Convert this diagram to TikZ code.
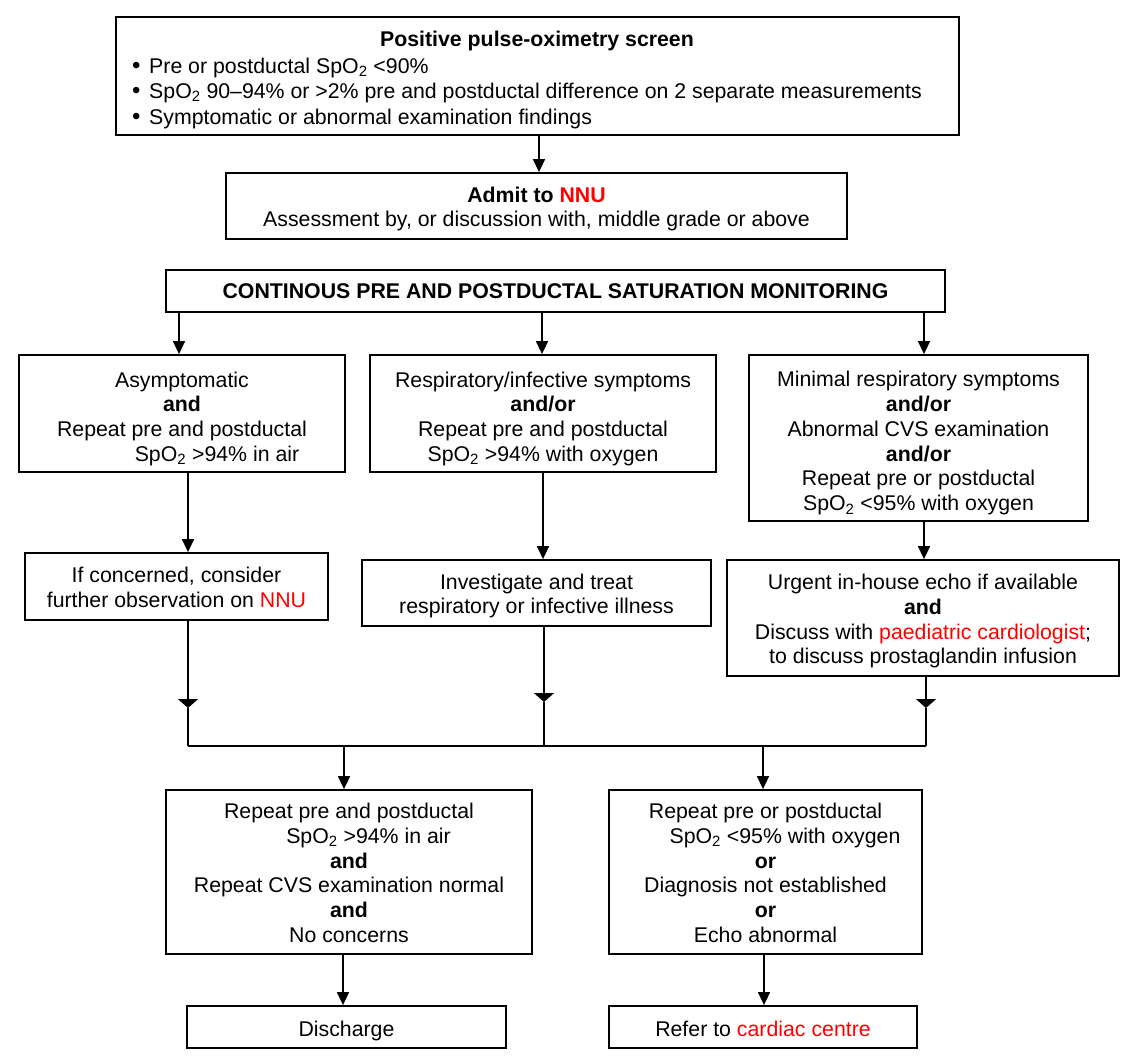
\documentclass[tikz,border=0pt]{standalone}
\usepackage{fontspec}
\setmainfont{Liberation Sans}
\usetikzlibrary{arrows.meta}
\definecolor{hl}{RGB}{255,0,0}
\newcommand{\spo}{SpO\textsubscript{2}}
\newcommand{\dn}[1]{\rule{0pt}{#1}}
\newcommand{\bul}{\makebox[17pt][l]{\fontsize{24}{24}\selectfont\textbullet}}
\tikzset{
  box/.style={draw, line width=1.8pt, inner sep=0pt, align=center, font=\fontsize{21.3}{24.8}\selectfont},
  txt/.style={inner sep=0pt, font=\fontsize{21.3}{25.5}\selectfont},
  conn/.style={line width=1.6pt},
  arr/.style={conn, -{Triangle[width=12pt,length=13pt]}},
  marr/.style={conn, -{Triangle[width=20pt,length=9pt]}}
}
\begin{document}
\begin{tikzpicture}[x=1pt,y=-1pt]
\useasboundingbox (0,0) rectangle (1145,1064);
% boxes
\node[box, minimum width=843pt, minimum height=118pt] (top) at (537.5,76) {};
\node[txt] (toph) at (537,41) {\bfseries Positive pulse-oximetry screen};
\node[txt, align=left, anchor=west] (topl) at (132,93) {\bul Pre or postductal \spo{} <90\%\\
\bul\spo{} 90--94\% or >2\% pre and postductal difference on 2 separate measurements\\
\bul Symptomatic or abnormal examination findings};
\node[box, minimum width=621pt, minimum height=66pt] (admit) at (536.5,206) {\dn{21.5pt}\bfseries Admit to \textcolor{hl}{NNU}\\Assessment by, or discussion with, middle grade or above};
\node[box, minimum width=779pt, minimum height=42pt] (mon) at (555.5,291) {\bfseries CONTINOUS PRE AND POSTDUCTAL SATURATION MONITORING};
\node[box, minimum width=326pt, minimum height=117pt] (asym) at (182,413.5) {\dn{26pt}Asymptomatic\\\textbf{and}\\Repeat pre and postductal\\\hspace*{70pt}\spo{} >94\% in air};
\node[box, minimum width=346pt, minimum height=117pt] (resp) at (543,413.5) {\dn{26pt}Respiratory/infective symptoms\\\textbf{and/or}\\Repeat pre and postductal\\\spo{} >94\% with oxygen};
\node[box, minimum width=339pt, minimum height=166pt] (minim) at (918.5,438) {\dn{26pt}Minimal respiratory symptoms\\\textbf{and/or}\\Abnormal CVS examination\\\textbf{and/or}\\Repeat pre or postductal\\\spo{} <95\% with oxygen};
\node[box, minimum width=303pt, minimum height=67pt] (conc) at (176.5,586.5) {\dn{17.5pt}If concerned, consider\\further observation on \textcolor{hl}{NNU}};
\node[box, minimum width=349pt, minimum height=66pt] (inv) at (536.5,593) {\dn{21.5pt}Investigate and treat\\respiratory or infective illness};
\node[box, minimum width=392pt, minimum height=116pt] (urg) at (923,618) {\dn{22pt}Urgent in-house echo if available\\\textbf{and}\\Discuss with \textcolor{hl}{paediatric cardiologist};\\to discuss prostaglandin infusion};
\node[box, minimum width=366pt, minimum height=164pt] (rep1) at (349,872) {\dn{17pt}Repeat pre and postductal\\\hspace*{39pt}\spo{} >94\% in air\\\textbf{and}\\Repeat CVS examination normal\\\textbf{and}\\No concerns};
\node[box, minimum width=313pt, minimum height=164pt] (rep2) at (765.5,872) {\dn{17pt}Repeat pre or postductal\\\hspace*{39pt}\spo{} <95\% with oxygen\\\textbf{or}\\Diagnosis not established\\\textbf{or}\\Echo abnormal};
\node[box, minimum width=319pt, minimum height=42pt] (dis) at (346.5,1027) {\dn{23.5pt}Discharge};
\node[box, minimum width=308pt, minimum height=42pt] (ref) at (763,1027) {\dn{19.5pt}Refer to \textcolor{hl}{cardiac centre}};
% helper coordinates
\coordinate (busL) at (188,746);
\coordinate (busR) at (926,746);
\coordinate (tipS) at (0,708);
\coordinate (tipM) at (0,702);
% connectors
\draw[arr] ([xshift=1.5pt]top.south) -- ([xshift=1.5pt]top.south |- admit.north);
\draw[arr] ([xshift=-3pt]asym.north |- mon.south) -- ([xshift=-3pt]asym.north);
\draw[arr] ([xshift=-1pt]resp.north |- mon.south) -- ([xshift=-1pt]resp.north);
\draw[arr] ([xshift=5.5pt]minim.north |- mon.south) -- ([xshift=5.5pt]minim.north);
\draw[arr] ([xshift=6pt]asym.south) -- ([xshift=6pt]asym.south |- conc.north);
\draw[arr] (resp.south) -- (resp.south |- inv.north);
\draw[arr] ([xshift=5.5pt]minim.south) -- ([xshift=5.5pt]minim.south |- urg.north);
\draw[marr] ([xshift=11.5pt]conc.south) -- ([xshift=11.5pt]conc.south |- tipS);
\draw[conn] ([xshift=11.5pt]conc.south |- tipS) -- (busL);
\draw[marr] ([xshift=7.5pt]inv.south) -- ([xshift=7.5pt]inv.south |- tipM);
\draw[conn] ([xshift=7.5pt]inv.south |- tipM) -- ([xshift=7.5pt]inv.south |- busL);
\draw[marr] ([xshift=3pt]urg.south) -- ([xshift=3pt]urg.south |- tipS);
\draw[conn] ([xshift=3pt]urg.south |- tipS) -- (busR);
\draw[conn] (busL) -- (busR);
\draw[arr] ([xshift=-5pt]rep1.north |- busL) -- ([xshift=-5pt]rep1.north);
\draw[arr] ([xshift=-2.5pt]rep2.north |- busL) -- ([xshift=-2.5pt]rep2.north);
\draw[arr] ([xshift=-6pt]rep1.south) -- ([xshift=-6pt]rep1.south |- dis.north);
\draw[arr] ([xshift=-1.5pt]rep2.south) -- ([xshift=-1.5pt]rep2.south |- ref.north);
\end{tikzpicture}
\end{document}
